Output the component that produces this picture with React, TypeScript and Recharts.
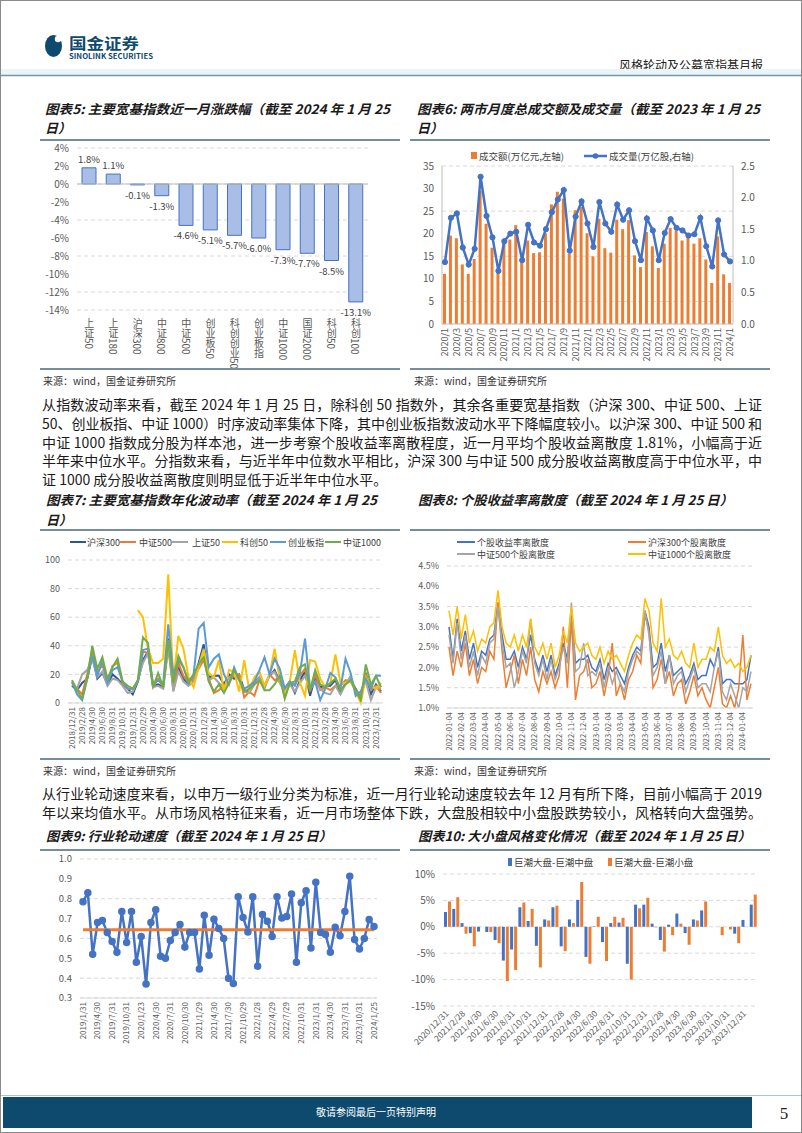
import React from 'react';
import {
  BarChart, Bar, XAxis, YAxis, CartesianGrid, ReferenceLine, LabelList,
  ComposedChart, Line, LineChart,
} from 'recharts';

const CJK = '"Noto Sans CJK SC", "Noto Sans", sans-serif';
const AXIS = '#595959';
const GRID = '#d9d9d9';
const BLUE = '#4472C4';
const ORANGE = '#ED7D31';
const GRAY = '#A5A5A5';
const YELLOW = '#FFC000';
const LBLUE = '#5B9BD5';
const GREEN = '#70AD47';
const NAVY = '#0d4a6e';

const monthEnd = (y: number, m: number) => new Date(y, m, 0).getDate();

// ---------- Chart 5 ----------
const c5Cats = ['上证50', '上证180', '沪深300', '中证800', '中证500', '创业板50', '科创创业50', '创业板指', '中证1000', '国证2000', '科创50', '科创100'];
const c5Vals = [1.8, 1.1, -0.1, -1.3, -4.6, -5.1, -5.7, -6.0, -7.3, -7.7, -8.5, -13.1];
const c5Ticks = [-14, -12, -10, -8, -6, -4, -2, 0, 2, 4];

// ---------- Chart 6 ----------
const c6Cats: string[] = [];
for (let y = 2020; y <= 2024; y++) for (let m = 1; m <= 12; m++) { if (y === 2024 && m > 1) break; c6Cats.push(`${y}/${m}`); }
const c6Amount = [11.1, 19.6, 19.0, 13.2, 11.1, 14.4, 29.5, 22.2, 16.9, 11.3, 17.9, 18.7,
  21.9, 14.2, 18.5, 15.7, 15.9, 20.1, 26.5, 29.3, 27.8, 15.6, 25.2, 25.9,
  20.1, 15.0, 23.3, 16.8, 15.8, 23.1, 21.0, 23.0, 15.2, 12.6, 20.4, 17.2,
  12.4, 17.8, 21.3, 20.6, 18.5, 19.1, 17.8, 19.0, 14.3, 9.1, 19.4, 11.0, 9.1];
const c6Volume = [0.98, 1.68, 1.75, 1.21, 0.94, 1.19, 2.33, 1.71, 1.37, 0.84, 1.31, 1.43,
  1.46, 1.01, 1.57, 1.29, 1.24, 1.50, 1.77, 1.97, 2.12, 1.16, 1.70, 1.94,
  1.59, 1.22, 1.93, 1.59, 1.46, 1.89, 1.65, 1.80, 1.31, 1.01, 1.67, 1.48,
  1.01, 1.44, 1.66, 1.52, 1.48, 1.40, 1.42, 1.68, 1.23, 0.91, 1.64, 1.10, 0.99];

// ---------- Chart 7 ----------
const c7Cats: string[] = [];
for (let i = 0; i < 62; i++) { const y = 2018 + Math.floor((11 + i) / 12); const m = ((11 + i) % 12) + 1; c7Cats.push(`${y}/${m}/${monthEnd(y, m)}`); }
const c7Hs300 = [12, 9, 14, 17, 33, 17, 21, 13, 20, 17, 13, 10, 6, 15, 30, 36, 12, 13, 11, 45, 9, 25, 17, 13, 17, 28, 41, 18, 19, 19, 13, 20, 17, 20, 9, 8, 14, 18, 12, 19, 23, 15, 10, 15, 7, 16, 22, 5, 18, 11, 12, 12, 16, 7, 14, 16, 10, 3, 21, 6, 13, 8];
const c7Zz500 = [14, 10, 6, 20, 37, 21, 27, 14, 26, 28, 14, 10, 10, 15, 36, 35, 11, 17, 11, 38, 12, 28, 19, 14, 17, 24, 30, 17, 7, 9, 12, 14, 20, 20, 4, 8, 5, 16, 12, 20, 16, 18, 4, 14, 13, 19, 24, 8, 20, 9, 11, 9, 12, 12, 16, 15, 9, 3, 20, 9, 12, 7];
const c7Sz50 = [13, 10, 20, 23, 31, 18, 22, 12, 17, 16, 12, 7, 8, 16, 28, 35, 11, 12, 10, 40, 8, 22, 15, 12, 15, 26, 38, 16, 18, 14, 11, 18, 20, 16, 8, 7, 13, 18, 10, 20, 22, 14, 8, 13, 8, 14, 19, 10, 14, 10, 7, 6, 12, 6, 13, 19, 8, 7, 15, 2, 11, 10];
const c7Kc50: (number | null)[] = [null, null, null, null, null, null, null, null, null, null, null, null, null,
  65, 60, 38, 28, 28, 31, 90, 15, 47, 38, 18, 11, 25, 37, 21, 18, 30, 8, 23, 22, 8, 30, 9, 18, 22, 12, 20, 38, 17, 8, 15, 37, 14, 5, 30, 29, 17, 11, 14, 34, 14, 14, 15, 8, 0, 18, 12, 10, 14];
const c7Cyb = [15, 6, 2, 17, 33, 19, 30, 14, 23, 25, 15, 10, 10, 15, 37, 38, 13, 16, 13, 55, 20, 30, 25, 14, 20, 52, 56, 25, 31, 34, 20, 13, 25, 16, 10, 12, 15, 23, 32, 20, 31, 24, 10, 15, 12, 21, 45, 10, 15, 2, 10, 21, 18, 10, 31, 21, 5, 8, 17, 10, 19, 19];
const c7Zz1000 = [16, 9, 3, 17, 40, 24, 32, 17, 25, 31, 15, 12, 10, 16, 46, 42, 11, 21, 11, 44, 14, 33, 25, 15, 20, 27, 32, 15, 8, 13, 7, 14, 23, 17, 8, 10, 13, 16, 9, 9, 13, 19, 3, 14, 15, 25, 27, 9, 23, 13, 11, 14, 17, 9, 13, 16, 9, 2, 27, 13, 19, 11];
const c7Ticks = [0, 10, 20, 30, 40, 50, 60, 70, 80, 90, 100];

// ---------- Chart 8 ----------
const c8Cats: string[] = [];
for (let i = 0; i < 25; i++) { const y = 2022 + Math.floor(i / 12); const m = (i % 12) + 1; for (const d of ['04', '14', '24']) c8Cats.push(`${y}-${String(m).padStart(2, '0')}-${d}`); }
const c8All = [3.0, 2.2, 3.2, 2.4, 2.9, 2.2, 2.6, 2.0, 2.4, 2.3, 2.7, 2.8, 3.6, 2.8, 2.2, 2.2, 2.4, 2.0, 2.5, 2.2, 2.8, 2.2, 1.9, 2.3, 1.9, 2.3, 1.8, 2.1, 2.6, 2.2, 3.4, 2.1, 2.2, 2.2, 2.3, 2.0, 1.9, 2.2, 1.7, 2.1, 1.9, 2.0, 1.8, 1.6, 2.0, 2.3, 2.5, 2.4, 3.4, 3.0, 2.0, 2.1, 2.6, 1.9, 2.3, 1.8, 1.9, 2.0, 1.6, 1.8, 2.1, 1.7, 1.8, 1.8, 2.2, 2.0, 2.5, 1.6, 1.7, 1.7, 1.6, 1.6, 1.6, 1.7, 2.3];
const c8Hs300 = [2.5, 1.8, 2.4, 2.0, 2.6, 1.8, 2.2, 1.6, 2.0, 1.9, 2.4, 2.2, 3.6, 2.4, 1.5, 1.9, 2.3, 1.6, 2.2, 1.8, 2.5, 1.7, 1.4, 1.9, 1.6, 1.9, 1.5, 1.8, 3.0, 1.5, 3.2, 1.2, 1.8, 1.9, 2.2, 1.5, 1.6, 1.9, 1.3, 1.8, 2.6, 1.3, 1.6, 1.2, 1.7, 1.9, 2.3, 2.1, 3.3, 2.9, 1.5, 1.7, 2.2, 1.6, 1.9, 1.3, 1.6, 1.7, 1.1, 1.4, 1.8, 1.3, 1.5, 1.2, 1.0, 1.5, 2.0, 1.1, 1.0, 1.3, 1.0, 1.5, 2.8, 1.2, 1.6];
const c8Zz500 = [2.8, 2.1, 3.1, 2.2, 2.8, 2.0, 2.4, 1.8, 2.3, 2.1, 2.6, 2.7, 3.5, 2.6, 2.0, 2.1, 1.5, 1.9, 2.4, 2.1, 3.2, 2.1, 1.8, 2.2, 1.7, 2.2, 1.7, 2.0, 2.5, 2.1, 3.6, 1.9, 2.0, 2.6, 1.8, 1.9, 1.8, 2.1, 1.5, 2.0, 1.6, 1.9, 1.6, 1.4, 1.9, 2.2, 2.4, 2.3, 3.4, 2.8, 1.8, 2.0, 2.4, 1.6, 2.3, 1.6, 1.8, 1.9, 1.4, 1.7, 2.0, 1.5, 1.6, 1.6, 1.4, 2.0, 2.4, 1.4, 1.2, 1.6, 1.3, 1.0, 1.5, 1.4, 1.9];
const c8Zz1000 = [3.4, 2.8, 3.5, 2.7, 3.3, 2.6, 2.9, 2.4, 2.7, 2.6, 3.0, 3.1, 3.9, 3.0, 2.6, 2.5, 2.8, 2.4, 2.8, 2.5, 3.2, 2.5, 2.3, 2.6, 2.2, 2.6, 2.0, 2.3, 2.9, 2.6, 3.5, 2.6, 2.4, 2.5, 2.6, 2.3, 2.2, 2.5, 2.1, 2.4, 2.2, 2.3, 2.1, 1.9, 2.3, 2.6, 2.8, 2.7, 3.7, 3.4, 2.6, 2.4, 3.7, 2.5, 2.7, 2.3, 2.2, 2.4, 2.1, 2.0, 2.6, 2.0, 2.2, 2.2, 2.5, 2.4, 3.0, 2.3, 2.1, 2.2, 2.0, 2.1, 1.9, 2.0, 2.3];
const c8Ticks = [1.0, 1.5, 2.0, 2.5, 3.0, 3.5, 4.0, 4.5];

// ---------- Chart 9 ----------
const c9Cats = ['2019/1/31', '2019/2/28', '2019/3/29', '2019/4/30', '2019/5/31', '2019/6/28', '2019/7/31', '2019/8/30', '2019/9/30', '2019/10/31', '2019/11/29', '2019/12/31',
  '2020/1/23', '2020/2/28', '2020/3/31', '2020/4/30', '2020/5/29', '2020/6/30', '2020/7/31', '2020/8/31', '2020/9/30', '2020/10/30', '2020/11/30', '2020/12/31',
  '2021/1/29', '2021/2/26', '2021/3/31', '2021/4/30', '2021/5/31', '2021/6/30', '2021/7/30', '2021/8/31', '2021/9/30', '2021/10/29', '2021/11/30', '2021/12/31',
  '2022/1/28', '2022/2/28', '2022/3/31', '2022/4/29', '2022/5/31', '2022/6/30', '2022/7/29', '2022/8/31', '2022/9/30', '2022/10/31', '2022/11/30', '2022/12/30',
  '2023/1/31', '2023/2/28', '2023/3/31', '2023/4/30', '2023/5/31', '2023/6/30', '2023/7/31', '2023/8/31', '2023/9/28', '2023/10/31', '2023/11/30', '2023/12/29', '2024/1/25'];
const c9Vals = [0.785, 0.83, 0.52, 0.68, 0.69, 0.63, 0.585, 0.53, 0.735, 0.58, 0.735, 0.48, 0.61, 0.37, 0.68, 0.745, 0.51, 0.50, 0.59, 0.63,
  0.67, 0.557, 0.63, 0.63, 0.446, 0.717, 0.515, 0.697, 0.65, 0.60, 0.40, 0.373, 0.81, 0.706, 0.632, 0.81, 0.46, 0.72, 0.686, 0.61,
  0.81, 0.703, 0.71, 0.824, 0.48, 0.78, 0.84, 0.552, 0.883, 0.63, 0.62, 0.53, 0.656, 0.614, 0.736, 0.913, 0.594, 0.547, 0.60, 0.695, 0.66];
const c9Mean = 0.644;
const c9Ticks = [0.3, 0.4, 0.5, 0.6, 0.7, 0.8, 0.9, 1.0];

// ---------- Chart 10 ----------
const c10Cats: string[] = [];
for (let i = 0; i < 37; i++) { const y = 2020 + Math.floor((11 + i) / 12); const m = ((11 + i) % 12) + 1; c10Cats.push(`${y}/${m}/${monthEnd(y, m)}`); }
c10Cats.push('2024/1/25');
const c10Mid = [2.8, 3.4, 0.7, -1.2, -0.9, -1.0, -2.5, -6.4, -4.3, 3.7, 1.1, -3.6, 1.4, 3.7, -3.7, 1.4, 5.1, -5.7, 0.1, -2.9, 0.7, 0.8, -7.0, 4.2, 4.2, 0.6, -2.5, 0.4, 2.5, -1.2, 1.4, 3.1, 0, 0, 0, -1.3, 1.3, 4.2];
const c10Small = [4.8, 5.6, -1.3, -3.7, 0, -1.0, -3.1, -10.3, -8.2, 4.6, 3.4, -7.7, 1.2, 4.0, -4.6, 0.7, 8.5, -7.0, 1.9, -6.5, 1.9, 1.7, -10.0, 3.5, 5.5, -0.1, -4.7, -1.6, 0.6, -3.4, 1.2, 4.8, 0, -1.6, -0.5, -3.1, 0, 6.1];
const c10Ticks = [-15, -10, -5, 0, 5, 10];

// ---------- data tables ----------
const c5Data = c5Cats.map((name, i) => ({ name, v: c5Vals[i] }));
const c6Data = c6Cats.map((m, i) => ({ m, amt: c6Amount[i], vol: c6Volume[i] }));
const c7Data = c7Cats.map((d, i) => ({ d, a: c7Hs300[i], b: c7Zz500[i], c: c7Sz50[i], k: c7Kc50[i], e: c7Cyb[i], f: c7Zz1000[i] }));
const c8Data = c8Cats.map((d, i) => ({ d, all: c8All[i], hs: c8Hs300[i], zz5: c8Zz500[i], zz1: c8Zz1000[i] }));
const c9Data = c9Cats.map((d, i) => ({ d, v: c9Vals[i] }));
const c10Data = c10Cats.map((d, i) => ({ d, mid: c10Mid[i], small: c10Small[i] }));

// ---------- helpers ----------
const rotTick = (p: any, angle: number, fs: number, off: number) => {
  const x = p.x;
  const y = p.y + off;
  return (
    <text x={x} y={y} dy="0.35em" textAnchor="end" transform={`rotate(${angle} ${x} ${y})`} fontSize={fs} fill={AXIS} fontFamily={CJK}>
      {p.payload.value}
    </text>
  );
};

const vertTick = (p: any) => (
  <text x={p.x} y={p.y} textAnchor="start" fontSize={10} fill={AXIS} fontFamily={CJK} style={{ writingMode: 'vertical-rl' as any }}>
    {p.payload.value}
  </text>
);

const c5Label = (p: any) => {
  const { x, y, width, height, value } = p;
  const top = Math.min(y, y + height);
  const bot = Math.max(y, y + height);
  const ty = value >= 0 ? top - 5 : bot + 14;
  return (
    <text x={x + width / 2} y={ty} textAnchor="middle" fontSize={9.5} fill="#404040" fontFamily={CJK}>
      {`${Number(value).toFixed(1)}%`}
    </text>
  );
};

const yTick = { fontSize: 10, fill: AXIS, fontFamily: CJK };

function Chart5() {
  return (
    <BarChart width={360} height={230} data={c5Data} margin={{ top: 10, right: 32, left: 0, bottom: 0 }}>
      <CartesianGrid vertical={false} stroke={GRID} strokeDasharray="4 3" />
      <XAxis dataKey="name" interval={0} height={58} axisLine={false} tickLine={false} tick={vertTick} />
      <YAxis width={37} domain={[-14, 4]} ticks={c5Ticks} tickFormatter={(v: number) => `${v}%`} axisLine={false} tickLine={false} tick={yTick} />
      <ReferenceLine y={0} stroke="#bfbfbf" />
      <Bar dataKey="v" barSize={14} fill="#A9BEE6" stroke={BLUE} strokeWidth={1} isAnimationActive={false}>
        <LabelList dataKey="v" content={c5Label} />
      </Bar>
    </BarChart>
  );
}

function Chart6() {
  return (
    <ComposedChart width={360} height={225} data={c6Data} margin={{ top: 23, right: 0, left: 0, bottom: 0 }}>
      <CartesianGrid vertical={false} yAxisId="l" stroke={GRID} strokeDasharray="4 3" />
      <XAxis dataKey="m" interval={1} height={44} axisLine={{ stroke: '#bfbfbf' }} tickLine={false} tick={(p: any) => rotTick(p, -90, 9, -4)} />
      <YAxis yAxisId="l" width={32} domain={[0, 35]} ticks={[0, 5, 10, 15, 20, 25, 30, 35]} axisLine={{ stroke: '#bfbfbf' }} tickLine={false} tick={yTick} />
      <YAxis yAxisId="r" orientation="right" width={37} domain={[0, 2.5]} ticks={[0, 0.5, 1, 1.5, 2, 2.5]} tickFormatter={(v: number) => v.toFixed(1)} axisLine={{ stroke: '#bfbfbf' }} tickLine={false} tick={yTick} />
      <Bar yAxisId="l" dataKey="amt" fill={ORANGE} barSize={3} isAnimationActive={false} />
      <Line yAxisId="r" dataKey="vol" stroke={BLUE} strokeWidth={2.5} dot={{ r: 2.6, fill: BLUE, stroke: BLUE, strokeWidth: 1 }} isAnimationActive={false} />
    </ComposedChart>
  );
}

function Chart7() {
  return (
    <LineChart width={360} height={209} data={c7Data} margin={{ top: 10, right: 17, left: 0, bottom: 0 }}>
      <CartesianGrid vertical={false} stroke={GRID} strokeDasharray="4 3" />
      <XAxis dataKey="d" interval={1} height={56} padding={{ left: 4, right: 2 }} axisLine={{ stroke: '#d9d9d9' }} tickLine={false} tick={(p: any) => rotTick(p, -90, 8, -4)} />
      <YAxis width={28} domain={[0, 100]} ticks={c7Ticks} axisLine={false} tickLine={false} tick={{ ...yTick, fontSize: 9 }} />
      <Line dataKey="a" stroke="#2F5597" strokeWidth={2} dot={false} isAnimationActive={false} />
      <Line dataKey="b" stroke={ORANGE} strokeWidth={2} dot={false} isAnimationActive={false} />
      <Line dataKey="c" stroke={GRAY} strokeWidth={2} dot={false} isAnimationActive={false} />
      <Line dataKey="k" stroke={YELLOW} strokeWidth={2} dot={false} connectNulls={false} isAnimationActive={false} />
      <Line dataKey="e" stroke={LBLUE} strokeWidth={2} dot={false} isAnimationActive={false} />
      <Line dataKey="f" stroke={GREEN} strokeWidth={2} dot={false} isAnimationActive={false} />
    </LineChart>
  );
}

function Chart8() {
  return (
    <LineChart width={360} height={199} data={c8Data} margin={{ top: 6, right: 17, left: 0, bottom: 0 }}>
      <CartesianGrid vertical={false} stroke={GRID} strokeDasharray="4 3" />
      <XAxis dataKey="d" interval={2} height={51} padding={{ left: 2, right: 2 }} axisLine={{ stroke: '#d9d9d9' }} tickLine={false} tick={(p: any) => rotTick(p, -90, 7.5, -4)} />
      <YAxis width={37} domain={[1, 4.5]} allowDataOverflow ticks={c8Ticks} tickFormatter={(v: number) => `${v.toFixed(1)}%`} axisLine={false} tickLine={false} tick={{ ...yTick, fontSize: 9 }} />
      <Line dataKey="all" stroke={BLUE} strokeWidth={1.5} dot={false} isAnimationActive={false} />
      <Line dataKey="hs" stroke={ORANGE} strokeWidth={1.5} dot={false} isAnimationActive={false} />
      <Line dataKey="zz5" stroke={GRAY} strokeWidth={1.5} dot={false} isAnimationActive={false} />
      <Line dataKey="zz1" stroke={YELLOW} strokeWidth={1.5} dot={false} isAnimationActive={false} />
    </LineChart>
  );
}

function Chart9() {
  return (
    <LineChart width={360} height={198} data={c9Data} margin={{ top: 7, right: 23, left: 0, bottom: 0 }}>
      <CartesianGrid vertical={false} stroke={GRID} strokeDasharray="4 3" />
      <XAxis dataKey="d" interval={2} height={52} padding={{ left: 3, right: 3 }} axisLine={{ stroke: '#d9d9d9' }} tickLine={false} tick={(p: any) => rotTick(p, -90, 8, -4)} />
      <YAxis width={40} domain={[0.3, 1.0]} ticks={c9Ticks} tickFormatter={(v: number) => v.toFixed(1)} axisLine={false} tickLine={false} tick={{ ...yTick, fontSize: 9.5 }} />
      <Line dataKey="v" stroke={BLUE} strokeWidth={2.5} dot={{ r: 2.5, fill: BLUE, stroke: BLUE }} isAnimationActive={false} />
      <ReferenceLine segment={[{ x: c9Cats[0], y: c9Mean }, { x: c9Cats[c9Cats.length - 1], y: c9Mean }]} stroke={ORANGE} strokeWidth={3} />
    </LineChart>
  );
}

function Chart10() {
  return (
    <BarChart width={360} height={198} data={c10Data} margin={{ top: 22, right: 13, left: 0, bottom: 0 }} barGap={1}>
      <CartesianGrid vertical={false} stroke={GRID} strokeDasharray="4 3" />
      <XAxis dataKey="d" interval={1} height={44} axisLine={false} tickLine={false} tick={(p: any) => rotTick(p, -45, 8.5, -2)} />
      <YAxis width={33} domain={[-15, 10]} ticks={c10Ticks} tickFormatter={(v: number) => `${v}%`} axisLine={false} tickLine={false} tick={yTick} />
      <Bar dataKey="mid" fill={BLUE} barSize={3} isAnimationActive={false} />
      <Bar dataKey="small" fill={ORANGE} barSize={3} isAnimationActive={false} />
    </BarChart>
  );
}

const para1 = [
  '从指数波动率来看，截至 2024 年 1 月 25 日，除科创 50 指数外，其余各重要宽基指数（沪深 300、中证 500、上证',
  '50、创业板指、中证 1000）时序波动率集体下降，其中创业板指数波动水平下降幅度较小。以沪深 300、中证 500 和',
  '中证 1000 指数成分股为样本池，进一步考察个股收益率离散程度，近一月平均个股收益离散度 1.81%，小幅高于近',
  '半年来中位水平。分指数来看，与近半年中位数水平相比，沪深 300 与中证 500 成分股收益离散度高于中位水平，中',
  '证 1000 成分股收益离散度则明显低于近半年中位水平。',
];
const para2 = [
  '从行业轮动速度来看，以申万一级行业分类为标准，近一月行业轮动速度较去年 12 月有所下降，目前小幅高于 2019',
  '年以来均值水平。从市场风格特征来看，近一月市场整体下跌，大盘股相较中小盘股跌势较小，风格转向大盘强势。',
];

const T = (p: { x: number; y: number; w?: number; children: string }) => (
  <text x={p.x} y={p.y} fontSize={13} fontWeight="bold" fontStyle="italic" fill="#1a1a1a" fontFamily={CJK}
    {...(p.w ? { textLength: p.w, lengthAdjust: 'spacingAndGlyphs' } : {})}>{p.children}</text>
);

const Src = (p: { x: number; y: number }) => (
  <text x={p.x} y={p.y} fontSize={10} fill="#333" fontFamily={CJK}>来源：wind，国金证券研究所</text>
);

const Rule = (p: { x1: number; x2: number; y: number }) => (
  <line x1={p.x1} x2={p.x2} y1={p.y} y2={p.y} stroke="#46677f" strokeWidth={1.5} />
);

const legText = (x: number, y: number, s: string, fs = 9.5) => (
  <text x={x} y={y} fontSize={fs} fill="#404040" fontFamily={CJK} dominantBaseline="central">{s}</text>
);

function Overlay() {
  const c7Leg: [number, number, string, string][] = [
    [70, 87, '#2F5597', '沪深300'], [120, 139, ORANGE, '中证500'], [172, 192, GRAY, '上证50'],
    [222, 240, YELLOW, '科创50'], [270, 288, LBLUE, '创业板指'], [325, 343, GREEN, '中证1000'],
  ];
  const c8Leg: [number, number, number, string, string][] = [
    [457, 477, 542, BLUE, '个股收益率离散度'], [628, 648, 542, ORANGE, '沪深300个股离散度'],
    [457, 477, 554, GRAY, '中证500个股离散度'], [628, 648, 554, YELLOW, '中证1000个股离散度'],
  ];
  return (
    <svg width={802} height={1133} style={{ position: 'absolute', left: 0, top: 0 }}>
      <rect x={0.5} y={0.5} width={801} height={1132} fill="none" stroke="#8a8a8a" />
      {/* header */}
      <ellipse cx={53.5} cy={46} rx={8.5} ry={11} fill={NAVY} />
      <circle cx={58} cy={39} r={3.2} fill="#fff" />
      <text x={69} y={49} fontSize={15} fontWeight="bold" fill={NAVY} fontFamily={CJK} textLength={70} lengthAdjust="spacingAndGlyphs">国金证券</text>
      <text x={69} y={59} fontSize={7} fontWeight="bold" fill={NAVY} fontFamily={CJK} textLength={84} lengthAdjust="spacingAndGlyphs">SINOLINK SECURITIES</text>
      <text x={763} y={70} fontSize={12} fill="#222" fontFamily={CJK} textAnchor="end">风格轮动及公募宽指基月报</text>
      <rect x={1} y={69} width={800} height={6} fill="#e9f5f8" />
      <line x1={1} x2={801} y1={75.5} y2={75.5} stroke="#7a95a8" strokeWidth={1.5} />

      {/* charts 5/6 titles */}
      <T x={45} y={114} w={345}>图表5: 主要宽基指数近一月涨跌幅（截至 2024 年 1 月 25</T>
      <T x={45} y={133}>日）</T>
      <T x={417} y={114} w={343}>图表6: 两市月度总成交额及成交量（截至 2023 年 1 月 25</T>
      <T x={417} y={133}>日）</T>
      <Rule x1={40} x2={400} y={140} />
      <Rule x1={410} x2={770} y={140} />
      <Rule x1={40} x2={400} y={369} />
      <Rule x1={410} x2={770} y={369} />
      <Src x={43} y={385} />
      <Src x={414} y={385} />

      {/* chart 6 legend */}
      <rect x={471} y={152} width={6} height={7} fill={ORANGE} />
      {legText(479, 156, '成交额(万亿元,左轴)')}
      <line x1={584} x2={607} y1={156} y2={156} stroke={BLUE} strokeWidth={2.5} />
      <circle cx={595.5} cy={156} r={2.8} fill={BLUE} />
      {legText(609, 156, '成交量(万亿股,右轴)')}

      {/* paragraph 1 */}
      {para1.map((s, i) => (
        <text key={i} x={42} y={410 + i * 18.75} fontSize={14} fill="#1a1a1a" fontFamily={CJK}
          {...(i < para1.length - 1 ? { textLength: 720, lengthAdjust: 'spacing' } : {})}>{s}</text>
      ))}

      {/* charts 7/8 titles */}
      <T x={46} y={505} w={331}>图表7: 主要宽基指数年化波动率（截至 2024 年 1 月 25</T>
      <T x={46} y={525}>日）</T>
      <T x={418} y={505} w={315}>图表8: 个股收益率离散度（截至 2024 年 1 月 25 日）</T>
      <Rule x1={40} x2={400} y={530} />
      <Rule x1={410} x2={770} y={530} />
      <Rule x1={40} x2={400} y={759} />
      <Rule x1={410} x2={770} y={759} />
      <Src x={43} y={775} />
      <Src x={414} y={775} />

      {/* chart 7 legend */}
      {c7Leg.map(([lx, tx, c, s], i) => (
        <g key={i}>
          <line x1={lx} x2={lx + 16} y1={542} y2={542} stroke={c} strokeWidth={2} />
          {legText(tx, 542, s, 9)}
        </g>
      ))}
      {/* chart 8 legend */}
      {c8Leg.map(([lx, tx, y, c, s], i) => (
        <g key={i}>
          <line x1={lx} x2={lx + 18} y1={y} y2={y} stroke={c} strokeWidth={2} />
          {legText(tx, y, s, 9)}
        </g>
      ))}

      {/* paragraph 2 */}
      {para2.map((s, i) => (
        <text key={i} x={42} y={799 + i * 18.75} fontSize={14} fill="#1a1a1a" fontFamily={CJK} textLength={720} lengthAdjust="spacing">{s}</text>
      ))}

      {/* charts 9/10 titles */}
      <T x={46} y={841} w={286}>图表9: 行业轮动速度（截至 2024 年 1 月 25 日）</T>
      <T x={418} y={841} w={333}>图表10: 大小盘风格变化情况（截至 2024 年 1 月 25 日）</T>
      <Rule x1={40} x2={400} y={850} />
      <Rule x1={410} x2={770} y={850} />

      {/* chart 10 legend */}
      <rect x={508} y={858} width={4} height={8} fill={BLUE} />
      {legText(514, 862, '巨潮大盘-巨潮中盘')}
      <rect x={608} y={858} width={4} height={8} fill={ORANGE} />
      {legText(614, 862, '巨潮大盘-巨潮小盘')}

      {/* footer */}
      <line x1={1} x2={801} y1={1095.5} y2={1095.5} stroke="#a9c4d2" />
      <rect x={3} y={1097} width={749} height={31} fill={NAVY} />
      <text x={376} y={1116} fontSize={10} fill="#fff" fontFamily={CJK} textAnchor="middle">敬请参阅最后一页特别声明</text>
      <text x={784} y={1119} fontSize={17} fill="#222" fontFamily='"Liberation Serif", serif' textAnchor="middle">5</text>
    </svg>
  );
}

export default function App() {
  const abs = (left: number, top: number): React.CSSProperties => ({ position: 'absolute', left, top });
  return (
    <div style={{ position: 'absolute', left: 0, top: 0, width: 802, height: 1133, background: '#fff', overflow: 'hidden', fontFamily: CJK }}>
      <Overlay />
      <div style={abs(40, 138)}><Chart5 /></div>
      <div style={abs(410, 143)}><Chart6 /></div>
      <div style={abs(40, 550)}><Chart7 /></div>
      <div style={abs(410, 560)}><Chart8 /></div>
      <div style={abs(40, 852)}><Chart9 /></div>
      <div style={abs(410, 852)}><Chart10 /></div>
    </div>
  );
}
